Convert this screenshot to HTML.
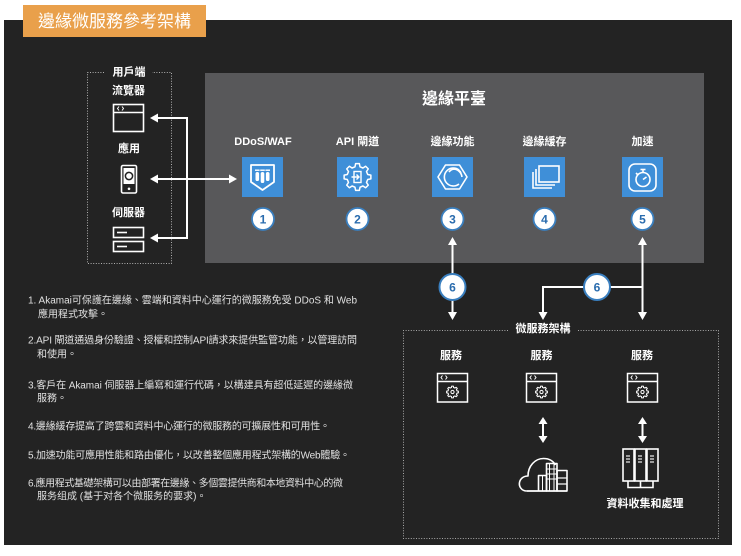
<!DOCTYPE html>
<html>
<head>
<meta charset="utf-8">
<style>
  html,body{margin:0;padding:0;background:#fff;}
  svg{display:block;}
  text{font-family:"Liberation Sans","Noto Sans CJK TC","Noto Sans CJK SC",sans-serif;}
  .lbl{fill:#fff;font-weight:bold;font-size:11px;}
  .body{fill:#e0e0e0;font-size:10px;}
  .num{fill:#2a6cae;font-weight:bold;font-size:12px;}
</style>
</head>
<body>
<svg width="741" height="556" viewBox="0 0 741 556" xmlns="http://www.w3.org/2000/svg">
  <defs>
    <polygon id="gear" points="10.19,-2.54 13.37,-1.88 13.37,1.88 10.19,2.54 9.0,5.41 10.78,8.12 8.12,10.78 5.41,9.0 2.54,10.19 1.88,13.37 -1.88,13.37 -2.54,10.19 -5.41,9.0 -8.12,10.78 -10.78,8.12 -9.0,5.41 -10.19,2.54 -13.37,1.88 -13.37,-1.88 -10.19,-2.54 -9.0,-5.41 -10.78,-8.12 -8.12,-10.78 -5.41,-9.0 -2.54,-10.19 -1.88,-13.37 1.88,-13.37 2.54,-10.19 5.41,-9.0 8.12,-10.78 10.78,-8.12 9.0,-5.41"/>
  </defs>
  <!-- backgrounds -->
  <rect x="0" y="0" width="741" height="556" fill="#ffffff"/>
  <rect x="4" y="20" width="728" height="525" fill="#232323"/>
  <rect x="23" y="5" width="183" height="32" fill="#e9a04b"/>
  <text x="114.5" y="21.5" fill="#fff" font-size="17" text-anchor="middle" dominant-baseline="central">邊緣微服務參考架構</text>

  <!-- client dotted box -->
  <g fill="none" stroke="#b0b0b0" stroke-width="1" stroke-dasharray="1 1.6">
    <path d="M104 72.5 H87.5 V263.5 H171.5 V72.5 H152"/>
  </g>
  <text class="lbl" x="129" y="72.5" text-anchor="middle" dominant-baseline="central">用戶端</text>
  <text class="lbl" x="128.5" y="91" text-anchor="middle" dominant-baseline="central">流覽器</text>
  <text class="lbl" x="129" y="149" text-anchor="middle" dominant-baseline="central">應用</text>
  <text class="lbl" x="128.5" y="213" text-anchor="middle" dominant-baseline="central">伺服器</text>

  <!-- browser icon -->
  <g fill="none" stroke="#fff" stroke-width="1.6">
    <rect x="113.5" y="104.5" width="30" height="27"/>
    <line x1="113.5" y1="112.5" x2="143.5" y2="112.5"/>
    <path d="M119 106.5 L117.5 108.5 L119 110.5 M122 106.5 L123.5 108.5 L122 110.5" stroke-width="1"/>
  </g>
  <!-- phone icon -->
  <g>
    <rect x="121.5" y="165.5" width="15" height="27.5" rx="1.5" fill="none" stroke="#fff" stroke-width="1.6"/>
    <rect x="123.5" y="168" width="11" height="16" fill="#fff"/>
    <circle cx="129" cy="176" r="3.6" fill="none" stroke="#232323" stroke-width="1.5"/>
    <circle cx="129" cy="188.8" r="1.3" fill="#fff"/>
  </g>
  <!-- server icon -->
  <g fill="none" stroke="#fff" stroke-width="1.6">
    <rect x="113.5" y="227.5" width="30" height="10"/>
    <rect x="113.5" y="241.5" width="30" height="10"/>
    <line x1="117" y1="232.5" x2="127" y2="232.5"/>
    <line x1="117" y1="246.5" x2="127" y2="246.5"/>
  </g>

  <!-- edge platform -->
  <rect x="205" y="73" width="499" height="190" fill="#58585a"/>
  <text x="454" y="99.5" fill="#fff" font-weight="bold" font-size="16" text-anchor="middle" dominant-baseline="central">邊緣平臺</text>

  <!-- client connectors (drawn after edge box) -->
  <g stroke="#fff" stroke-width="2" fill="none">
    <path d="M156 118 H187 V238 H156"/>
    <line x1="156" y1="179" x2="231" y2="179"/>
  </g>
  <g fill="#fff">
    <polygon points="150,118 158,113.5 158,122.5"/>
    <polygon points="150,238 158,233.5 158,242.5"/>
    <polygon points="150,179 158,174.5 158,183.5"/>
    <polygon points="237,179 229,174.5 229,183.5"/>
  </g>

  <text class="lbl" x="263" y="142" text-anchor="middle" dominant-baseline="central" font-size="11.5">DDoS/WAF</text>
  <text class="lbl" x="357.5" y="142" text-anchor="middle" dominant-baseline="central">API 閘道</text>
  <text class="lbl" x="452.5" y="142" text-anchor="middle" dominant-baseline="central">邊緣功能</text>
  <text class="lbl" x="544.5" y="142" text-anchor="middle" dominant-baseline="central">邊緣緩存</text>
  <text class="lbl" x="642.5" y="142" text-anchor="middle" dominant-baseline="central">加速</text>

  <!-- icon squares -->
  <g fill="#3f8fd8">
    <rect x="242" y="157" width="41" height="40"/>
    <rect x="337" y="157" width="41" height="40"/>
    <rect x="432" y="157" width="41" height="40"/>
    <rect x="524" y="157" width="41" height="40"/>
    <rect x="622" y="157" width="41" height="40"/>
  </g>

  <!-- DDoS/WAF icon -->
  <g transform="translate(242,157)">
    <path d="M9 8 H32 V25 L20.5 33 L9 25 Z" fill="none" stroke="#fff" stroke-width="1.8" stroke-linejoin="round"/>
    <g fill="#fff">
      <rect x="13.5" y="15" width="3.6" height="9" rx="1.8"/>
      <rect x="18.7" y="15" width="3.6" height="11" rx="1.8"/>
      <rect x="23.9" y="15" width="3.6" height="9" rx="1.8"/>
      <rect x="13" y="12.5" width="4.6" height="1.4"/>
      <rect x="18.2" y="12.5" width="4.6" height="1.4"/>
      <rect x="23.4" y="12.5" width="4.6" height="1.4"/>
    </g>
  </g>
  <!-- API gateway icon -->
  <g transform="translate(357.5,177)" fill="none" stroke="#fff">
    <use href="#gear" stroke-width="1.5" stroke-linejoin="round"/>
    <rect x="-3.5" y="-5.5" width="7" height="11" stroke-width="1.4"/>
    <path d="M-6 0 H1.5 M-1 -2.5 L1.5 0 L-1 2.5" stroke-width="1.4"/>
  </g>
  <!-- edge function icon -->
  <g transform="translate(432,157)" fill="none" stroke="#fff" stroke-width="1.6" stroke-linejoin="round">
    <polygon points="6,20 13.5,8 27.5,8 35,20 27.5,32 13.5,32"/>
    <path d="M27 13 A9 9 0 1 0 27 27"/>
    <path d="M29 16 A7 7 0 0 0 17 15"/>
    <path d="M30 20 A9 9 0 0 0 21 12"/>
  </g>
  <!-- edge cache icon -->
  <g transform="translate(524,157)" fill="none" stroke="#fff" stroke-width="1.6">
    <rect x="15" y="9" width="20" height="16"/>
    <polyline points="12,12 12,28 31,28"/>
    <polyline points="9,15 9,31 28,31"/>
  </g>
  <!-- acceleration icon -->
  <g transform="translate(622,157)" fill="none" stroke="#fff" stroke-width="1.6">
    <rect x="7" y="7" width="27" height="27" rx="6"/>
    <circle cx="21" cy="22.5" r="7"/>
    <line x1="21" y1="15.5" x2="21" y2="13"/>
    <line x1="18.5" y1="12.5" x2="23.5" y2="12.5"/>
    <line x1="21" y1="22.5" x2="24.5" y2="20"/>
    <line x1="14" y1="16" x2="16" y2="18"/>
  </g>

  <!-- number circles -->
  <g fill="#fff" stroke="#3a7fbf" stroke-width="1.8">
    <circle cx="263" cy="219" r="11"/>
    <circle cx="357.5" cy="219" r="11"/>
    <circle cx="452.5" cy="219" r="11"/>
    <circle cx="544.5" cy="219" r="11"/>
    <circle cx="642.5" cy="219" r="11"/>
  </g>
  <text class="num" x="263" y="219.5" text-anchor="middle" dominant-baseline="central">1</text>
  <text class="num" x="357.5" y="219.5" text-anchor="middle" dominant-baseline="central">2</text>
  <text class="num" x="452.5" y="219.5" text-anchor="middle" dominant-baseline="central">3</text>
  <text class="num" x="544.5" y="219.5" text-anchor="middle" dominant-baseline="central">4</text>
  <text class="num" x="642.5" y="219.5" text-anchor="middle" dominant-baseline="central">5</text>

  <!-- edge to microservices connectors -->
  <g stroke="#fff" stroke-width="2" fill="none">
    <line x1="452.5" y1="243" x2="452.5" y2="314"/>
    <line x1="642.5" y1="243" x2="642.5" y2="314"/>
    <line x1="543" y1="287" x2="642.5" y2="287"/>
    <line x1="543" y1="286" x2="543" y2="314"/>
  </g>
  <g fill="#fff">
    <polygon points="452.5,237 448,245 457,245"/>
    <polygon points="452.5,320 448,312 457,312"/>
    <polygon points="642.5,237 638,245 647,245"/>
    <polygon points="642.5,320 638,312 647,312"/>
    <polygon points="543,320 538.5,312 547.5,312"/>
  </g>
  <g fill="#fff" stroke="#3a7fbf" stroke-width="2">
    <circle cx="452.5" cy="287" r="13"/>
    <circle cx="597" cy="287" r="13"/>
  </g>
  <text class="num" x="452.5" y="287.5" text-anchor="middle" dominant-baseline="central" font-size="13">6</text>
  <text class="num" x="597" y="287.5" text-anchor="middle" dominant-baseline="central" font-size="13">6</text>

  <!-- microservices dotted box -->
  <path d="M508 330.5 H403.5 V538.5 H718.5 V330.5 H578" fill="none" stroke="#a8a8a8" stroke-width="1" stroke-dasharray="1 1.6"/>
  <text class="lbl" x="543" y="329" text-anchor="middle" dominant-baseline="central">微服務架構</text>

  <text class="lbl" x="451" y="356" text-anchor="middle" dominant-baseline="central">服務</text>
  <text class="lbl" x="541.5" y="356" text-anchor="middle" dominant-baseline="central">服務</text>
  <text class="lbl" x="642" y="356" text-anchor="middle" dominant-baseline="central">服務</text>

  <!-- service icons -->
  <g fill="none" stroke="#fff" stroke-width="1.5" transform="translate(437.5,373.5)">
    <rect x="0" y="0" width="30" height="28.5"/>
    <line x1="0" y1="8" x2="30" y2="8"/>
    <path d="M5 2 L3.5 4 L5 6 M8 2 L9.5 4 L8 6" stroke-width="1"/>
    <use href="#gear" transform="translate(15,18.5) scale(0.44)" stroke-width="2.4" stroke-linejoin="round"/>
    <circle cx="15" cy="18.5" r="1.6" stroke-width="1"/>
  </g>
  <g fill="none" stroke="#fff" stroke-width="1.5" transform="translate(526.5,373.5)">
    <rect x="0" y="0" width="30" height="28.5"/>
    <line x1="0" y1="8" x2="30" y2="8"/>
    <path d="M5 2 L3.5 4 L5 6 M8 2 L9.5 4 L8 6" stroke-width="1"/>
    <use href="#gear" transform="translate(15,18.5) scale(0.44)" stroke-width="2.4" stroke-linejoin="round"/>
    <circle cx="15" cy="18.5" r="1.6" stroke-width="1"/>
  </g>
  <g fill="none" stroke="#fff" stroke-width="1.5" transform="translate(627.5,373.5)">
    <rect x="0" y="0" width="30" height="28.5"/>
    <line x1="0" y1="8" x2="30" y2="8"/>
    <path d="M5 2 L3.5 4 L5 6 M8 2 L9.5 4 L8 6" stroke-width="1"/>
    <use href="#gear" transform="translate(15,18.5) scale(0.44)" stroke-width="2.4" stroke-linejoin="round"/>
    <circle cx="15" cy="18.5" r="1.6" stroke-width="1"/>
  </g>

  <!-- double arrows -->
  <g stroke="#fff" stroke-width="2">
    <line x1="543" y1="423" x2="543" y2="437"/>
    <line x1="642.5" y1="423" x2="642.5" y2="437"/>
  </g>
  <g fill="#fff">
    <polygon points="543,417 538.5,424 547.5,424"/>
    <polygon points="543,443 538.5,436 547.5,436"/>
    <polygon points="642.5,417 638,424 647,424"/>
    <polygon points="642.5,443 638,436 647,436"/>
  </g>

  <!-- cloud icon -->
  <g transform="translate(518,453)" fill="none" stroke="#fff" stroke-width="1.6" stroke-linejoin="round">
    <path d="M20 38 H9 C3 38 0.8 33 1.5 29.5 C2.3 25.5 5.5 23 10 23 C10 13 17 5.5 25.5 5.5 C31.5 5.5 35.5 8.5 37.5 12"/>
    <rect x="28.5" y="10.5" width="10.5" height="27.5"/>
    <rect x="20.5" y="22.5" width="8" height="15.5"/>
    <rect x="39" y="17.5" width="10" height="20.5"/>
    <line x1="31.5" y1="10.5" x2="31.5" y2="38" stroke-width="1"/>
    <line x1="36" y1="10.5" x2="36" y2="38" stroke-width="1"/>
    <line x1="28.5" y1="16" x2="39" y2="16" stroke-width="1"/>
    <line x1="28.5" y1="21" x2="39" y2="21" stroke-width="1"/>
    <line x1="28.5" y1="26" x2="39" y2="26" stroke-width="1"/>
    <line x1="39" y1="25" x2="49" y2="25" stroke-width="1.2"/>
    <line x1="39" y1="31" x2="49" y2="31" stroke-width="1.2"/>
    <line x1="24.5" y1="22.5" x2="24.5" y2="38" stroke-width="1"/>
    <line x1="9" y1="38" x2="49" y2="38"/>
  </g>

  <!-- datacenter icon -->
  <g transform="translate(622,448)" fill="none" stroke="#fff" stroke-width="1.6">
    <rect x="1" y="1" width="11" height="32"/>
    <rect x="13" y="1" width="11" height="32"/>
    <rect x="25" y="1" width="11" height="32"/>
    <g stroke-width="1.1">
      <line x1="4" y1="8" x2="8" y2="8"/><line x1="4" y1="11" x2="8" y2="11"/><line x1="4" y1="14" x2="8" y2="14"/>
      <line x1="16" y1="8" x2="20" y2="8"/><line x1="16" y1="11" x2="20" y2="11"/><line x1="16" y1="14" x2="20" y2="14"/>
      <line x1="28" y1="8" x2="32" y2="8"/><line x1="28" y1="11" x2="32" y2="11"/><line x1="28" y1="14" x2="32" y2="14"/>
    </g>
    <path d="M6 33 V39.5 H31 V33 M18.5 33 V39.5"/>
  </g>
  <text class="lbl" x="645" y="504" text-anchor="middle" dominant-baseline="central">資料收集和處理</text>

  <!-- explanation text -->
  <g class="body">
    <text class="body" x="28" y="303.5" textLength="329" lengthAdjust="spacing">1. Akamai可保護在邊緣、雲端和資料中心運行的微服務免受 DDoS 和 Web</text>
    <text class="body" x="38" y="317.5">應用程式攻擊。</text>
    <text class="body" x="28" y="343.5" textLength="329" lengthAdjust="spacing">2.API 閘道通過身份驗證、授權和控制API請求來提供監管功能，以管理訪問</text>
    <text class="body" x="37" y="357.5">和使用。</text>
    <text class="body" x="28" y="388.5" textLength="325" lengthAdjust="spacing">3.客戶在 Akamai 伺服器上編寫和運行代碼，以構建具有超低延遲的邊緣微</text>
    <text class="body" x="37" y="401.5">服務。</text>
    <text class="body" x="28" y="429.5" textLength="302" lengthAdjust="spacing">4.邊緣緩存提高了跨雲和資料中心運行的微服務的可擴展性和可用性。</text>
    <text class="body" x="28" y="458.5" textLength="322" lengthAdjust="spacing">5.加速功能可應用性能和路由優化，以改善整個應用程式架構的Web體驗。</text>
    <text class="body" x="28" y="486.5" textLength="315" lengthAdjust="spacing">6.應用程式基礎架構可以由部署在邊緣、多個雲提供商和本地資料中心的微</text>
    <text class="body" x="37" y="499.5">服务组成 (基于对各个微服务的要求)。</text>
  </g>
</svg>
</body>
</html>
